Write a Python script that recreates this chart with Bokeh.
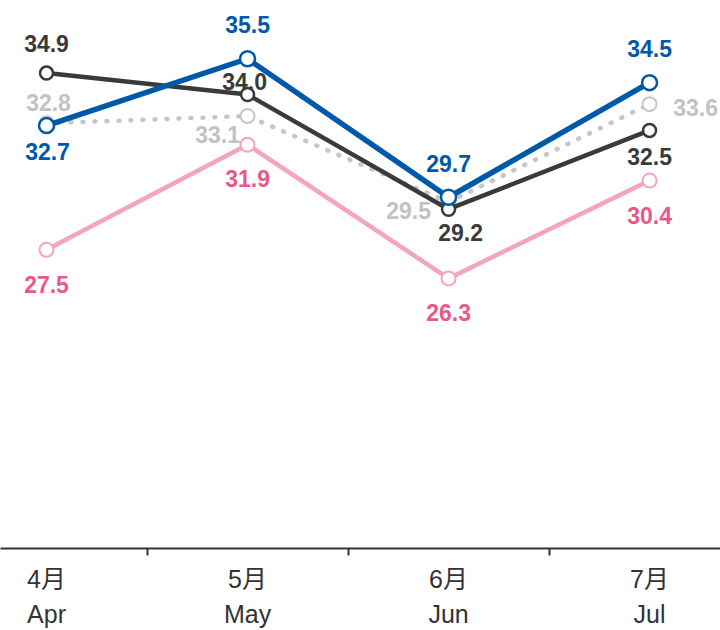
from bokeh.plotting import figure
from bokeh.models import Range1d, FixedTicker, LinearAxis
from bokeh.core.properties import value
from bokeh.embed import file_html
from bokeh.resources import INLINE

# ---- data ----
months_jp = ["4月", "5月", "6月", "7月"]
months_en = ["Apr", "May", "Jun", "Jul"]
x_idx = [0, 1, 2, 3]
series_dark = [34.9, 34.0, 29.2, 32.5]
series_blue = [32.7, 35.5, 29.7, 34.5]
series_gray = [32.8, 33.1, 29.5, 33.6]
series_pink = [27.5, 31.9, 26.3, 30.4]

# ---- label offsets (screen px) ----
off_dark = ([0, -3, 12, 0], [-30, -13, 23, 26])
off_blue = ([1, 0, 0, 0], [26, -34, -34, -34])
off_gray = ([2, -30, -40, 46], [-21, 18, 8, 3])
off_pink = ([0, 0, 0, 0], [35, 34, 34, 35])

W, H = 720, 630

p = figure(width=W, height=H,
           x_range=Range1d(-0.229, 3.353), y_range=Range1d(14.99, 37.94),
           output_backend="svg", toolbar_location=None,
           x_axis_location="below", y_axis_location=None,
           min_border_left=0, min_border_right=0, min_border_top=0,
           min_border_bottom=80)
p.outline_line_color = None
p.grid.visible = False
p.background_fill_color = "white"
p.border_fill_color = "white"

FONT_JP = "'Liberation Sans', 'Noto Sans CJK JP', sans-serif"

ax1 = p.xaxis[0]
ax1.ticker = FixedTicker(ticks=x_idx, minor_ticks=[0.5, 1.5, 2.5])
ax1.major_label_overrides = {i: m for i, m in zip(x_idx, months_jp)}
ax1.axis_line_color = "#333333"
ax1.axis_line_width = 2
ax1.major_tick_line_color = None
ax1.major_tick_in = 0
ax1.major_tick_out = 0
ax1.minor_tick_line_color = "#333333"
ax1.minor_tick_line_width = 2
ax1.minor_tick_in = 0
ax1.minor_tick_out = 7
ax1.major_label_standoff = 9
ax1.major_label_text_font = FONT_JP
ax1.major_label_text_font_size = "25px"
ax1.major_label_text_color = "#333333"

ax2 = LinearAxis(ticker=FixedTicker(ticks=x_idx),
                 major_label_overrides={i: m for i, m in zip(x_idx, months_en)})
ax2.axis_line_color = None
ax2.major_tick_line_color = None
ax2.minor_tick_line_color = None
ax2.major_tick_in = 0
ax2.major_tick_out = 0
ax2.minor_tick_out = 0
ax2.major_label_standoff = 4
ax2.major_label_text_font = "Liberation Sans"
ax2.major_label_text_font_size = "25px"
ax2.major_label_text_color = "#333333"
p.add_layout(ax2, "below")

series = [
    (series_pink, "#f4a3c0", "#e8598b", 4.5, None, 14, 2, off_pink),
    (series_gray, "#c6c6c6", "#c2c2c2", 4.5, "1 11", 14, 2, off_gray),
    (series_dark, "#3a3a3a", "#3a3a3a", 4.5, None, 13, 2.5, off_dark),
    (series_blue, "#0058a8", "#0058a8", 5.5, None, 15, 2.5, off_blue),
]

for vals, lc, tc, lw, dash, msize, mlw, offs in series:
    if dash:
        p.line(x_idx, vals, line_color=lc, line_width=lw, line_dash=dash, line_cap="round")
    else:
        p.line(x_idx, vals, line_color=lc, line_width=lw, line_join="round")
    p.scatter(x_idx, vals, marker="circle", size=msize, fill_color="white",
              line_color=lc, line_width=mlw)

for vals, lc, tc, lw, dash, msize, mlw, offs in series:
    p.text(x=x_idx, y=vals, text=[f"{v:.1f}" for v in vals],
           x_offset=offs[0], y_offset=offs[1],
           text_color=tc, text_font=value("Liberation Sans"), text_font_style="bold",
           text_font_size="23px", text_align="center", text_baseline="middle")

open("out.html", "w").write(file_html(p, INLINE))
